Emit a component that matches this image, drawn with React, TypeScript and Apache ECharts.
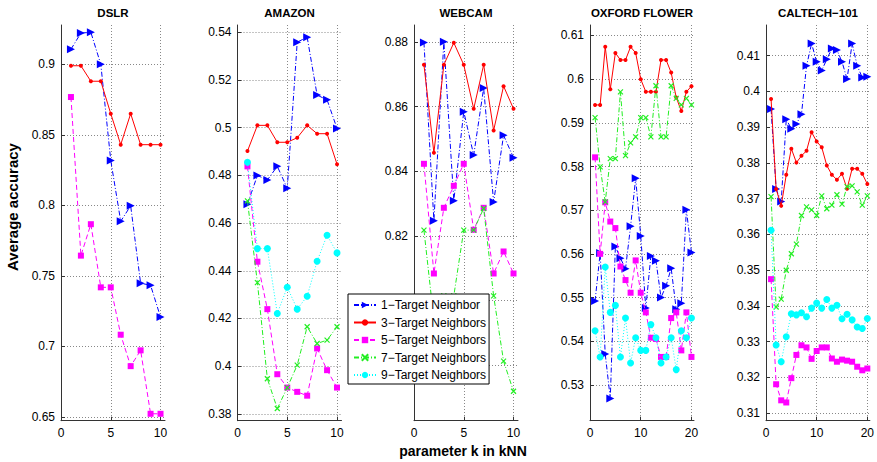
import React, { useEffect, useRef } from 'react';
import * as echarts from 'echarts';

const panelTitles = ['DSLR', 'AMAZON', 'WEBCAM', 'OXFORD FLOWER', 'CALTECH\u2212101'];
const seriesNames = [
  '1\u2212Target Neighbor',
  '3\u2212Target Neighbors',
  '5\u2212Target Neighbors',
  '7\u2212Target Neighbors',
  '9\u2212Target Neighbors',
];

// DSLR (k = 1..10)
const dslr1 = [0.9107, 0.9222, 0.9227, 0.9, 0.8318, 0.7887, 0.7996, 0.7447, 0.7433, 0.7207];
const dslr3 = [0.899, 0.899, 0.888, 0.888, 0.865, 0.843, 0.865, 0.843, 0.843, 0.843];
const dslr5 = [0.8768, 0.7643, 0.7866, 0.7418, 0.7418, 0.7082, 0.6859, 0.6971, 0.6521, 0.6521];

// AMAZON (k = 1..10)
const amazon1 = [0.4679, 0.48, 0.4781, 0.4838, 0.4746, 0.5359, 0.538, 0.5137, 0.5117, 0.4997];
const amazon3 = [0.4902, 0.501, 0.501, 0.4939, 0.4939, 0.4958, 0.501, 0.4975, 0.4975, 0.4847];
const amazon5 = [0.4838, 0.4438, 0.4239, 0.3966, 0.391, 0.3892, 0.3876, 0.4074, 0.3983, 0.391];
const amazon7 = [0.4693, 0.435, 0.3947, 0.3822, 0.391, 0.4004, 0.4165, 0.4095, 0.4109, 0.4165];
const amazon9 = [0.4855, 0.4493, 0.4493, 0.4221, 0.4331, 0.4239, 0.4293, 0.444, 0.4549, 0.4475];

// WEBCAM (k = 1..10)
const webcam1 = [0.8798, 0.8247, 0.88, 0.8309, 0.8584, 0.845, 0.8657, 0.8305, 0.8511, 0.8442];
const webcam3 = [0.8729, 0.8457, 0.8729, 0.8797, 0.8729, 0.8593, 0.8729, 0.8526, 0.8663, 0.8593];
const webcam5 = [0.8423, 0.8084, 0.8287, 0.8355, 0.8423, 0.8219, 0.8287, 0.8084, 0.8152, 0.8084];
const webcam7 = [0.8218, 0.794, 0.8015, 0.8015, 0.8218, 0.8218, 0.8285, 0.8015, 0.7813, 0.772];

// OXFORD FLOWER (k = 1..20)
const oxford1 = [0.5492, 0.5602, 0.5371, 0.5269, 0.5617, 0.559, 0.5566, 0.5663, 0.5773, 0.5641, 0.5476, 0.5595, 0.5584, 0.55, 0.5527, 0.5567, 0.5473, 0.5487, 0.5701, 0.5603];
const oxford3 = [0.5941, 0.5941, 0.6074, 0.5977, 0.606, 0.6044, 0.6044, 0.6074, 0.606, 0.6, 0.5971, 0.5971, 0.5971, 0.6044, 0.6044, 0.6015, 0.5958, 0.5927, 0.5971, 0.5984];
const oxford5 = [0.5821, 0.56, 0.5718, 0.5674, 0.5659, 0.5571, 0.554, 0.5511, 0.5585, 0.5511, 0.5466, 0.5408, 0.5405, 0.5364, 0.5364, 0.5453, 0.5466, 0.5379, 0.5466, 0.5364];
const oxford7 = [0.5912, 0.5799, 0.5719, 0.5818, 0.5818, 0.5971, 0.5825, 0.5854, 0.5868, 0.5912, 0.5912, 0.5868, 0.5985, 0.5868, 0.5868, 0.5985, 0.5956, 0.5941, 0.5956, 0.5941];
const oxford9 = [0.5424, 0.5364, 0.557, 0.5466, 0.5482, 0.5364, 0.5453, 0.535, 0.5408, 0.5379, 0.5379, 0.5438, 0.5408, 0.535, 0.5364, 0.5408, 0.5335, 0.5424, 0.5408, 0.5453];

// CALTECH-101 (k = 1..20)
const caltech1 = [0.3951, 0.3727, 0.3692, 0.3922, 0.3896, 0.3909, 0.3936, 0.4072, 0.4134, 0.4083, 0.4059, 0.409, 0.412, 0.4116, 0.4083, 0.4035, 0.4134, 0.4072, 0.4039, 0.4041];
const caltech3 = [0.3979, 0.3727, 0.368, 0.3767, 0.384, 0.3801, 0.382, 0.3834, 0.3886, 0.386, 0.3844, 0.3793, 0.3767, 0.3753, 0.377, 0.3728, 0.3784, 0.3784, 0.377, 0.3741];
const caltech5 = [0.3475, 0.3181, 0.3136, 0.313, 0.3198, 0.3263, 0.329, 0.3284, 0.3252, 0.3274, 0.3284, 0.3284, 0.3253, 0.3244, 0.325, 0.3247, 0.3244, 0.323, 0.322, 0.3225];
const caltech7 = [0.3706, 0.3397, 0.3419, 0.35, 0.3546, 0.3573, 0.3653, 0.3677, 0.3669, 0.3653, 0.3708, 0.3672, 0.3682, 0.3711, 0.3685, 0.3734, 0.3736, 0.3719, 0.3682, 0.3708];
const caltech9 = [0.3612, 0.3291, 0.3244, 0.3314, 0.3378, 0.3375, 0.3381, 0.337, 0.3394, 0.3408, 0.3394, 0.3418, 0.3394, 0.3402, 0.3364, 0.3377, 0.3361, 0.3341, 0.3337, 0.3365];

// Tick values
const dslrTicks = [0.65, 0.7, 0.75, 0.8, 0.85, 0.9];
const amazonTicks = [0.38, 0.4, 0.42, 0.44, 0.46, 0.48, 0.5, 0.52, 0.54];
const webcamTicks = [0.78, 0.8, 0.82, 0.84, 0.86, 0.88];
const webcamLabels = [0.82, 0.84, 0.86, 0.88];
const oxfordTicks = [0.53, 0.54, 0.55, 0.56, 0.57, 0.58, 0.59, 0.6, 0.61];
const caltechTicks = [0.31, 0.32, 0.33, 0.34, 0.35, 0.36, 0.37, 0.38, 0.39, 0.4, 0.41];
const xTicksShort = [0, 5, 10];
const xTicksLong = [0, 10, 20];

const FONT = "'Liberation Sans', Arial, Helvetica, sans-serif";

const panels = [
  { data: [dslr1, dslr3, dslr5, null, null], ymin: 0.6472, ymax: 0.9279, ticks: dslrTicks, labels: dslrTicks, xmax: 10.45, xticks: xTicksShort, left: 61 },
  { data: [amazon1, amazon3, amazon5, amazon7, amazon9], ymin: 0.3771, ymax: 0.5431, ticks: amazonTicks, labels: amazonTicks, xmax: 10.45, xticks: xTicksShort, left: 237.5 },
  { data: [webcam1, webcam3, webcam5, webcam7, null], ymin: 0.7629, ymax: 0.8852, ticks: webcamTicks, labels: webcamLabels, xmax: 10.45, xticks: xTicksShort, left: 414 },
  { data: [oxford1, oxford3, oxford5, oxford7, oxford9], ymin: 0.5218, ymax: 0.6124, ticks: oxfordTicks, labels: oxfordTicks, xmax: 20.5, xticks: xTicksLong, left: 590 },
  { data: [caltech1, caltech3, caltech5, caltech7, caltech9], ymin: 0.3079, ymax: 0.4186, ticks: caltechTicks, labels: caltechTicks, xmax: 20.5, xticks: xTicksLong, left: 766 },
];

const styles = [
  { color: '#0000ff', dash: [5, 2, 1, 2], symbol: 'triangle', size: 8, rotate: -90, stroke: false },
  { color: '#ff0000', dash: 'solid', symbol: 'circle', size: 4, rotate: 0, stroke: false },
  { color: '#ff00ff', dash: [5, 3], symbol: 'rect', size: 6, rotate: 0, stroke: false },
  { color: '#22ee22', dash: [5, 2, 1, 2], symbol: 'path://M0,0L10,10M10,0L0,10', size: 5, rotate: 0, stroke: true },
  { color: '#00ffff', dash: [1, 2], symbol: 'circle', size: 7, rotate: 0, stroke: false },
];

const TOP = 25;
const HEIGHT = 395.7;
const WIDTH = 104;

export default function App() {
  const ref = useRef<HTMLDivElement>(null);
  useEffect(() => {
    if (!ref.current) return;
    const chart = echarts.init(ref.current, null, { renderer: 'svg' });
    const fmt = (v: number) => String(+(+v).toFixed(4));
    const grid = panels.map((p) => ({ left: p.left, top: TOP, width: WIDTH, height: HEIGHT, containLabel: false }));
    const xAxis = panels.map((p, i) => ({
      type: 'value',
      gridIndex: i,
      min: 0,
      max: p.xmax,
      axisLine: { show: true, onZero: false, lineStyle: { color: '#333', width: 1 } },
      axisTick: { show: true, inside: true, length: 4, customValues: p.xticks, lineStyle: { color: '#333' } },
      axisLabel: { customValues: p.xticks, color: '#000', fontSize: 12, fontFamily: FONT, margin: 6, formatter: fmt },
      splitLine: { show: true, lineStyle: { color: '#888', type: [1, 2], width: 1 } },
    }));
    const yAxis = panels.map((p, i) => ({
      type: 'value',
      gridIndex: i,
      min: p.ymin,
      max: p.ymax,
      axisLine: { show: true, lineStyle: { color: '#333', width: 1 } },
      axisTick: { show: true, inside: true, length: 4, customValues: p.ticks, lineStyle: { color: '#333' } },
      axisLabel: { customValues: p.labels, color: '#000', fontSize: 12, fontFamily: FONT, margin: 6, formatter: fmt },
      splitLine: { show: true, lineStyle: { color: '#888', type: [1, 2], width: 1 } },
    }));
    const series: any[] = [];
    panels.forEach((p, i) => {
      p.data.forEach((arr, s) => {
        if (!arr) return;
        const st = styles[s];
        series.push({
          type: 'line',
          name: seriesNames[s],
          xAxisIndex: i,
          yAxisIndex: i,
          data: arr.map((v, k) => [k + 1, v]),
          symbol: st.symbol,
          symbolSize: st.size,
          symbolRotate: st.rotate,
          showSymbol: true,
          showAllSymbol: true,
          lineStyle: { color: st.color, width: 1, type: st.dash },
          itemStyle: st.stroke
            ? { color: 'rgba(0,0,0,0)', borderColor: st.color, borderWidth: 1.2 }
            : { color: st.color, borderWidth: 0 },
          emphasis: { disabled: true },
          z: 2 + s,
        });
      });
    });
    const graphic: any[] = panels.map((p, i) => ({
      type: 'text',
      x: p.left + WIDTH / 2,
      y: 13,
      style: { text: panelTitles[i], fontSize: 11.5, fontWeight: 'bold', fontFamily: FONT, fill: '#000', textAlign: 'center', textVerticalAlign: 'middle' },
    }));
    graphic.push({
      type: 'text',
      x: 12.5,
      y: 207,
      rotation: Math.PI / 2,
      style: { text: 'Average accuracy', fontSize: 15, fontWeight: 'bold', fontFamily: FONT, fill: '#000', textAlign: 'center', textVerticalAlign: 'middle' },
    });
    graphic.push({
      type: 'text',
      x: 463,
      y: 451,
      style: { text: 'parameter k in kNN', fontSize: 14, fontWeight: 'bold', fontFamily: FONT, fill: '#000', textAlign: 'center', textVerticalAlign: 'middle' },
    });
    chart.setOption({
      animation: false,
      backgroundColor: '#fff',
      grid,
      xAxis,
      yAxis,
      series,
      graphic,
      legend: {
        orient: 'vertical',
        left: 348,
        top: 294,
        data: seriesNames,
        selectedMode: false,
        itemWidth: 22,
        itemHeight: 8,
        itemGap: 3.5,
        padding: [4, 3, 2, 5],
        backgroundColor: '#fff',
        borderColor: '#000',
        borderWidth: 1,
        textStyle: { fontSize: 12, fontFamily: FONT, color: '#000', lineHeight: 14 },
        z: 20,
      },
    });
    return () => chart.dispose();
  }, []);
  return <div ref={ref} style={{ position: 'fixed', left: 0, top: 0, width: 877, height: 462 }} />;
}
